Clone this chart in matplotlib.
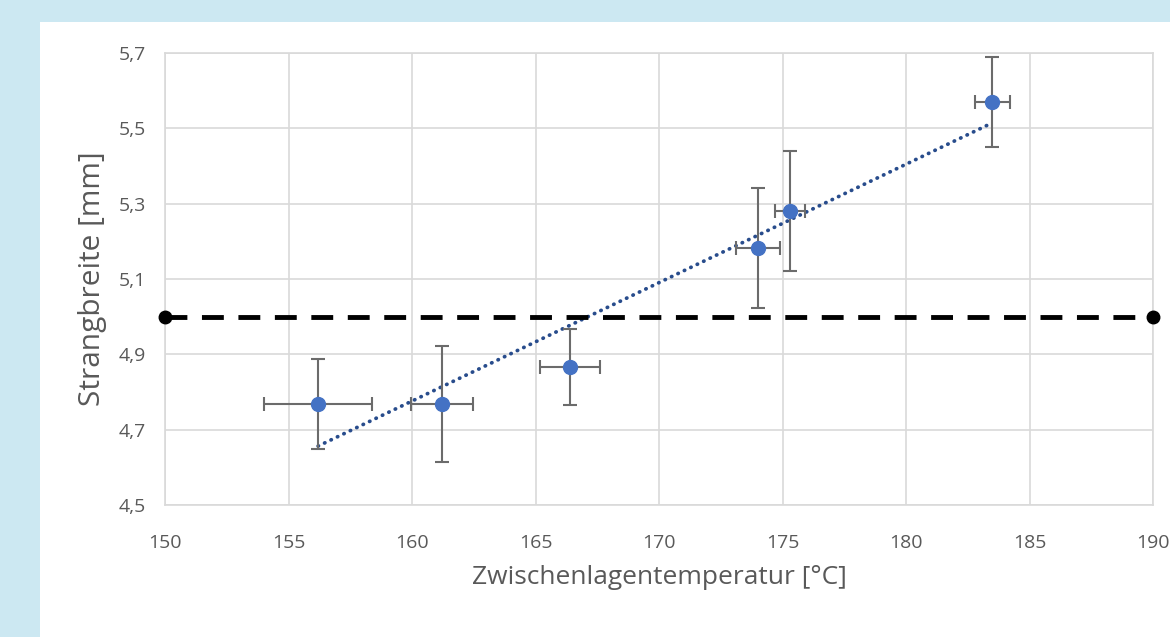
import matplotlib.pyplot as plt
import numpy as np
from matplotlib.patches import Rectangle

plt.rcParams['font.family'] = ['Open Sans', 'DejaVu Sans']

# measured points
temp = [156.2, 161.2, 166.4, 174.0, 175.3, 183.5]
temp_err = [2.2, 1.25, 1.2, 0.9, 0.6, 0.7]
width = [4.768, 4.768, 4.866, 5.182, 5.281, 5.570]
width_err = [0.12, 0.153, 0.10, 0.16, 0.16, 0.12]

# reference line
ref_x = [150, 190]
ref_y = [5.0, 5.0]

xticks = [150, 155, 160, 165, 170, 175, 180, 185, 190]
yticks = [4.5, 4.7, 4.9, 5.1, 5.3, 5.5, 5.7]

fig = plt.figure(figsize=(11.7, 6.37), dpi=100)
fig.patch.set_facecolor('#cce8f2')
fig.patches.append(Rectangle((40 / 1170, 0), 1 - 40 / 1170, 1 - 22 / 637,
                             transform=fig.transFigure, facecolor='white',
                             edgecolor='none', zorder=-10))

ax = fig.add_axes([165 / 1170, 132 / 637, 988 / 1170, 452 / 637])
ax.set_facecolor('white')

ax.errorbar(temp, width, xerr=temp_err, yerr=width_err, fmt='o',
            color='#4472c4', markersize=10, ecolor='#6b6b6b', elinewidth=1.5,
            capsize=5, capthick=1.5, zorder=4)

# linear trend
p = np.polyfit(temp, width, 1)
tx = np.array([min(temp), max(temp)])
ax.plot(tx, np.polyval(p, tx), linestyle=(0, (0.1, 1.8)), color='#284c8c',
        linewidth=2.7, dash_capstyle='round', zorder=3)

ax.plot(ref_x, ref_y, color='black', linewidth=3.5, linestyle=(0, (4.5, 3)),
        marker='o', markersize=9, clip_on=False, zorder=5)

ax.set_xlim(150, 190)
ax.set_ylim(4.5, 5.7)
ax.set_xticks(xticks)
ax.set_yticks(yticks)
ax.set_yticklabels([f'{v:.1f}'.replace('.', ',') for v in yticks])
ax.grid(True, color='#d9d9d9', linewidth=1.2)
ax.set_axisbelow(True)
for s in ax.spines.values():
    s.set_color('#d9d9d9')
    s.set_linewidth(1.2)
ax.tick_params(length=0, labelsize=14, colors='#595959')
ax.tick_params(axis='x', pad=21)
ax.tick_params(axis='y', pad=14)

ax.set_xlabel('Zwischenlagentemperatur [°C]', fontsize=19, color='#595959', labelpad=9)
ax.set_ylabel('Strangbreite [mm]', fontsize=21.5, color='#595959', labelpad=8)

fig.savefig('out.png', dpi=100, facecolor=fig.get_facecolor())
